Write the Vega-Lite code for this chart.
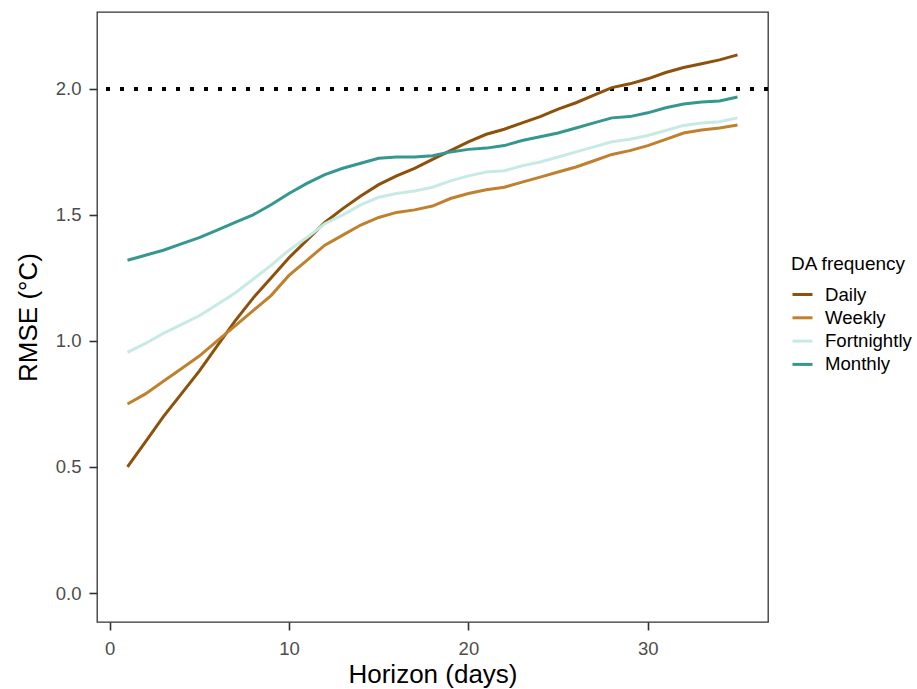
{
  "$schema": "https://vega.github.io/schema/vega-lite/v6.json",
  "autosize": "none",
  "width": 671,
  "height": 610,
  "padding": {"left": 97, "top": 12, "right": 149, "bottom": 67},
  "background": "white",
  "config": {
    "font": "Liberation Sans",
    "view": {"stroke": "#333333", "strokeWidth": 1.3},
    "axis": {
      "grid": false,
      "domain": false,
      "tickColor": "#333333",
      "tickWidth": 1.6,
      "tickSize": 8,
      "labelColor": "#4d4d4d",
      "labelFont": "Liberation Sans",
      "labelFontSize": 18.5,
      "titleFont": "Liberation Sans",
      "titleFontSize": 26,
      "titleFontWeight": "normal",
      "titleColor": "#000000"
    },
    "legend": {
      "titleFont": "Liberation Sans",
      "labelFont": "Liberation Sans",
      "titleFontSize": 19,
      "titleFontWeight": "normal",
      "labelFontSize": 18.6,
      "labelColor": "#000000",
      "titleColor": "#000000"
    }
  },
  "data": {
    "values": [
      {"h": 1, "s": "Daily", "v": 0.50}, {"h": 2, "s": "Daily", "v": 0.60}, {"h": 3, "s": "Daily", "v": 0.70}, {"h": 4, "s": "Daily", "v": 0.79}, {"h": 5, "s": "Daily", "v": 0.88},
      {"h": 6, "s": "Daily", "v": 0.98}, {"h": 7, "s": "Daily", "v": 1.08}, {"h": 8, "s": "Daily", "v": 1.17}, {"h": 9, "s": "Daily", "v": 1.25}, {"h": 10, "s": "Daily", "v": 1.33},
      {"h": 11, "s": "Daily", "v": 1.40}, {"h": 12, "s": "Daily", "v": 1.47}, {"h": 13, "s": "Daily", "v": 1.525}, {"h": 14, "s": "Daily", "v": 1.575}, {"h": 15, "s": "Daily", "v": 1.62},
      {"h": 16, "s": "Daily", "v": 1.655}, {"h": 17, "s": "Daily", "v": 1.685}, {"h": 18, "s": "Daily", "v": 1.72}, {"h": 19, "s": "Daily", "v": 1.755}, {"h": 20, "s": "Daily", "v": 1.79},
      {"h": 21, "s": "Daily", "v": 1.82}, {"h": 22, "s": "Daily", "v": 1.84}, {"h": 23, "s": "Daily", "v": 1.865}, {"h": 24, "s": "Daily", "v": 1.89}, {"h": 25, "s": "Daily", "v": 1.92},
      {"h": 26, "s": "Daily", "v": 1.945}, {"h": 27, "s": "Daily", "v": 1.975}, {"h": 28, "s": "Daily", "v": 2.005}, {"h": 29, "s": "Daily", "v": 2.02}, {"h": 30, "s": "Daily", "v": 2.04},
      {"h": 31, "s": "Daily", "v": 2.065}, {"h": 32, "s": "Daily", "v": 2.085}, {"h": 33, "s": "Daily", "v": 2.10}, {"h": 34, "s": "Daily", "v": 2.115}, {"h": 35, "s": "Daily", "v": 2.135},

      {"h": 1, "s": "Weekly", "v": 0.75}, {"h": 2, "s": "Weekly", "v": 0.79}, {"h": 3, "s": "Weekly", "v": 0.84}, {"h": 4, "s": "Weekly", "v": 0.89}, {"h": 5, "s": "Weekly", "v": 0.94},
      {"h": 6, "s": "Weekly", "v": 1.0}, {"h": 7, "s": "Weekly", "v": 1.06}, {"h": 8, "s": "Weekly", "v": 1.12}, {"h": 9, "s": "Weekly", "v": 1.18}, {"h": 10, "s": "Weekly", "v": 1.26},
      {"h": 11, "s": "Weekly", "v": 1.32}, {"h": 12, "s": "Weekly", "v": 1.38}, {"h": 13, "s": "Weekly", "v": 1.42}, {"h": 14, "s": "Weekly", "v": 1.46}, {"h": 15, "s": "Weekly", "v": 1.49},
      {"h": 16, "s": "Weekly", "v": 1.51}, {"h": 17, "s": "Weekly", "v": 1.52}, {"h": 18, "s": "Weekly", "v": 1.535}, {"h": 19, "s": "Weekly", "v": 1.565}, {"h": 20, "s": "Weekly", "v": 1.585},
      {"h": 21, "s": "Weekly", "v": 1.60}, {"h": 22, "s": "Weekly", "v": 1.61}, {"h": 23, "s": "Weekly", "v": 1.63}, {"h": 24, "s": "Weekly", "v": 1.65}, {"h": 25, "s": "Weekly", "v": 1.67},
      {"h": 26, "s": "Weekly", "v": 1.69}, {"h": 27, "s": "Weekly", "v": 1.715}, {"h": 28, "s": "Weekly", "v": 1.74}, {"h": 29, "s": "Weekly", "v": 1.755}, {"h": 30, "s": "Weekly", "v": 1.775},
      {"h": 31, "s": "Weekly", "v": 1.80}, {"h": 32, "s": "Weekly", "v": 1.825}, {"h": 33, "s": "Weekly", "v": 1.837}, {"h": 34, "s": "Weekly", "v": 1.845}, {"h": 35, "s": "Weekly", "v": 1.857},

      {"h": 1, "s": "Fortnightly", "v": 0.955}, {"h": 2, "s": "Fortnightly", "v": 0.99}, {"h": 3, "s": "Fortnightly", "v": 1.03}, {"h": 4, "s": "Fortnightly", "v": 1.065}, {"h": 5, "s": "Fortnightly", "v": 1.10},
      {"h": 6, "s": "Fortnightly", "v": 1.145}, {"h": 7, "s": "Fortnightly", "v": 1.19}, {"h": 8, "s": "Fortnightly", "v": 1.245}, {"h": 9, "s": "Fortnightly", "v": 1.30}, {"h": 10, "s": "Fortnightly", "v": 1.36},
      {"h": 11, "s": "Fortnightly", "v": 1.41}, {"h": 12, "s": "Fortnightly", "v": 1.465}, {"h": 13, "s": "Fortnightly", "v": 1.50}, {"h": 14, "s": "Fortnightly", "v": 1.54}, {"h": 15, "s": "Fortnightly", "v": 1.57},
      {"h": 16, "s": "Fortnightly", "v": 1.585}, {"h": 17, "s": "Fortnightly", "v": 1.595}, {"h": 18, "s": "Fortnightly", "v": 1.61}, {"h": 19, "s": "Fortnightly", "v": 1.635}, {"h": 20, "s": "Fortnightly", "v": 1.655},
      {"h": 21, "s": "Fortnightly", "v": 1.67}, {"h": 22, "s": "Fortnightly", "v": 1.675}, {"h": 23, "s": "Fortnightly", "v": 1.695}, {"h": 24, "s": "Fortnightly", "v": 1.71}, {"h": 25, "s": "Fortnightly", "v": 1.73},
      {"h": 26, "s": "Fortnightly", "v": 1.75}, {"h": 27, "s": "Fortnightly", "v": 1.77}, {"h": 28, "s": "Fortnightly", "v": 1.79}, {"h": 29, "s": "Fortnightly", "v": 1.80}, {"h": 30, "s": "Fortnightly", "v": 1.815},
      {"h": 31, "s": "Fortnightly", "v": 1.835}, {"h": 32, "s": "Fortnightly", "v": 1.855}, {"h": 33, "s": "Fortnightly", "v": 1.865}, {"h": 34, "s": "Fortnightly", "v": 1.87}, {"h": 35, "s": "Fortnightly", "v": 1.885},

      {"h": 1, "s": "Monthly", "v": 1.32}, {"h": 2, "s": "Monthly", "v": 1.34}, {"h": 3, "s": "Monthly", "v": 1.36}, {"h": 4, "s": "Monthly", "v": 1.385}, {"h": 5, "s": "Monthly", "v": 1.41},
      {"h": 6, "s": "Monthly", "v": 1.44}, {"h": 7, "s": "Monthly", "v": 1.47}, {"h": 8, "s": "Monthly", "v": 1.50}, {"h": 9, "s": "Monthly", "v": 1.54}, {"h": 10, "s": "Monthly", "v": 1.585},
      {"h": 11, "s": "Monthly", "v": 1.625}, {"h": 12, "s": "Monthly", "v": 1.66}, {"h": 13, "s": "Monthly", "v": 1.685}, {"h": 14, "s": "Monthly", "v": 1.705}, {"h": 15, "s": "Monthly", "v": 1.725},
      {"h": 16, "s": "Monthly", "v": 1.73}, {"h": 17, "s": "Monthly", "v": 1.73}, {"h": 18, "s": "Monthly", "v": 1.735}, {"h": 19, "s": "Monthly", "v": 1.75}, {"h": 20, "s": "Monthly", "v": 1.76},
      {"h": 21, "s": "Monthly", "v": 1.765}, {"h": 22, "s": "Monthly", "v": 1.775}, {"h": 23, "s": "Monthly", "v": 1.795}, {"h": 24, "s": "Monthly", "v": 1.81}, {"h": 25, "s": "Monthly", "v": 1.825},
      {"h": 26, "s": "Monthly", "v": 1.845}, {"h": 27, "s": "Monthly", "v": 1.865}, {"h": 28, "s": "Monthly", "v": 1.885}, {"h": 29, "s": "Monthly", "v": 1.89}, {"h": 30, "s": "Monthly", "v": 1.905},
      {"h": 31, "s": "Monthly", "v": 1.925}, {"h": 32, "s": "Monthly", "v": 1.94}, {"h": 33, "s": "Monthly", "v": 1.948}, {"h": 34, "s": "Monthly", "v": 1.952}, {"h": 35, "s": "Monthly", "v": 1.968}
    ]
  },
  "layer": [
    {
      "mark": {"type": "rule", "color": "#000000", "strokeWidth": 3.2, "strokeDash": [3.2, 10.8], "strokeCap": "butt"},
      "encoding": {"y": {"datum": 2, "type": "quantitative"}}
    },
    {
      "mark": {"type": "line", "strokeWidth": 3, "interpolate": "linear"},
      "encoding": {
        "x": {
          "field": "h", "type": "quantitative",
          "scale": {"domain": [-0.7, 36.7], "nice": false, "zero": false},
          "axis": {"values": [0, 10, 20, 30], "title": "Horizon (days)", "labelPadding": 9, "titlePadding": 4}
        },
        "y": {
          "field": "v", "type": "quantitative",
          "scale": {"domain": [-0.115, 2.305], "nice": false, "zero": false},
          "axis": {"values": [0, 0.5, 1, 1.5, 2], "format": ".1f", "title": "RMSE (°C)", "labelPadding": 8, "titlePadding": 14}
        },
        "color": {
          "field": "s", "type": "nominal",
          "scale": {"domain": ["Daily", "Weekly", "Fortnightly", "Monthly"], "range": ["#8c510a", "#bf812d", "#c7eae5", "#35978f"]},
          "legend": {
            "title": "DA frequency",
            "orient": "none",
            "legendX": 694,
            "legendY": 243,
            "symbolType": "stroke",
            "symbolStrokeWidth": 3,
            "symbolSize": 400,
            "rowPadding": 1.3,
            "titlePadding": 9,
            "labelOffset": 11
          }
        }
      }
    }
  ]
}
